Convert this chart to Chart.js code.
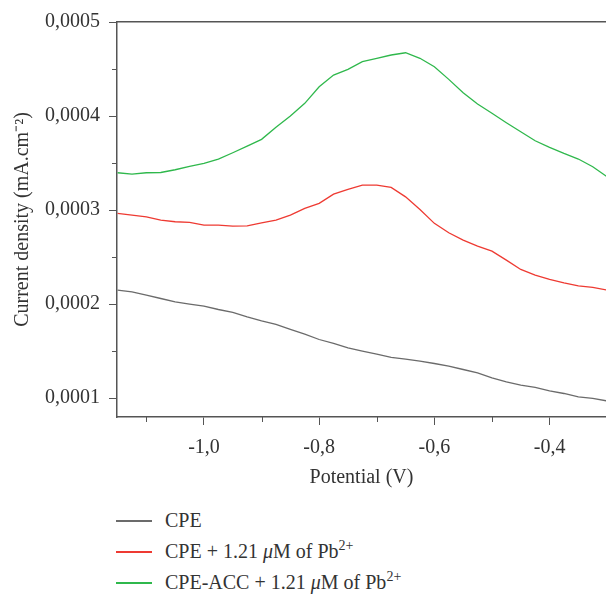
<!DOCTYPE html>
<html>
<head>
<meta charset="utf-8">
<script src="https://cdn.jsdelivr.net/npm/chart.js@4.4.0/dist/chart.umd.min.js"></script>
<style>
  body { margin: 0; background: #fff; }
  #wrap { position: relative; width: 606px; height: 594px; font-family: "Liberation Serif", serif; color: #333; }
  #chart { position: absolute; left: 0; top: 0; }
  .legend { position: absolute; left: 116px; top: 505px; font-size: 20px; }
  .item { position: relative; height: 31px; line-height: 31px; padding-left: 49px; white-space: nowrap; }
  .swatch { position: absolute; left: 0; top: 15px; width: 36px; height: 1.5px; }
  .sup { position: relative; top: -8px; font-size: 14px; }
</style>
</head>
<body>
<div id="wrap">
  <canvas id="chart" width="606" height="490"></canvas>
  <div class="legend">
    <div class="item"><span class="swatch" style="background:#6b6b6b"></span>CPE</div>
    <div class="item"><span class="swatch" style="background:#ee3a32"></span>CPE + 1.21 <i>μ</i>M of Pb<span class="sup">2+</span></div>
    <div class="item"><span class="swatch" style="background:#2fb84c"></span>CPE-ACC + 1.21 <i>μ</i>M of Pb<span class="sup">2+</span></div>
  </div>
</div>
<script>
// données (potentiel en V, densité de courant en mA.cm-2)
const potential = [-1.15, -1.125, -1.1, -1.075, -1.05, -1.025, -1.0, -0.975, -0.95, -0.925,
  -0.9, -0.875, -0.85, -0.825, -0.8, -0.775, -0.75, -0.725, -0.7, -0.675,
  -0.65, -0.625, -0.6, -0.575, -0.55, -0.525, -0.5, -0.475, -0.45, -0.425,
  -0.4, -0.375, -0.35, -0.325, -0.3];

const cpe = [0.0002149, 0.0002131, 0.0002096, 0.000206, 0.0002024, 0.0002, 0.0001979, 0.0001943, 0.0001912, 0.0001865,
  0.0001822, 0.0001784, 0.0001731, 0.0001681, 0.0001624, 0.0001582, 0.0001535, 0.00015, 0.0001468, 0.0001433,
  0.0001415, 0.0001394, 0.0001369, 0.000134, 0.0001305, 0.0001269, 0.0001216, 0.0001173, 0.0001138, 0.0001114,
  0.0001078, 0.000105, 0.0001014, 0.0000997, 0.0000971];

const cpePb = [0.0002965, 0.0002947, 0.0002929, 0.0002894, 0.0002876, 0.0002869, 0.000284, 0.000284, 0.000283, 0.0002833,
  0.0002865, 0.0002894, 0.0002947, 0.0003018, 0.0003071, 0.000317, 0.000322, 0.0003266, 0.0003266, 0.0003241,
  0.0003141, 0.0003007, 0.0002859, 0.0002759, 0.0002681, 0.0002617, 0.0002564, 0.0002468, 0.0002369, 0.0002309,
  0.0002263, 0.0002227, 0.0002195, 0.0002178, 0.0002149];

const cpeAccPb = [0.0003397, 0.0003383, 0.0003397, 0.00034, 0.0003429, 0.0003465, 0.0003497, 0.0003543, 0.000361, 0.0003681,
  0.0003752, 0.000388, 0.0004, 0.0004135, 0.0004312, 0.0004436, 0.0004497, 0.0004578, 0.0004614, 0.0004649,
  0.0004673, 0.0004614, 0.0004525, 0.000439, 0.0004248, 0.0004128, 0.0004029, 0.0003929, 0.0003833, 0.0003737,
  0.0003667, 0.0003603, 0.0003543, 0.0003461, 0.0003354];

// graduations
const xMajor = [-1.0, -0.8, -0.6, -0.4];
const xMinor = [-1.1, -0.9, -0.7, -0.5, -0.3];
const yMajor = [0.0001, 0.0002, 0.0003, 0.0004, 0.0005];
const yMinor = [0.00015, 0.00025, 0.00035, 0.00045];

const axisColor = '#555';
const textColor = '#333';
const font = { family: '"Liberation Serif", serif', size: 20 };

const toPoints = arr => arr.map((v, i) => ({ x: potential[i], y: v }));

// petites graduations intermédiaires (Chart.js n'a pas de minor ticks)
const minorTicks = {
  id: 'minorTicks',
  afterDraw(chart) {
    const ctx = chart.ctx;
    const xs = chart.scales.x, ys = chart.scales.y;
    ctx.save();
    ctx.strokeStyle = axisColor;
    ctx.lineWidth = 1;
    ctx.beginPath();
    xMinor.forEach(v => {
      const px = Math.round(xs.getPixelForValue(v)) + 0.5;
      if (px > xs.right) return;
      ctx.moveTo(px, xs.top);
      ctx.lineTo(px, xs.top + 5);
    });
    yMinor.forEach(v => {
      const py = Math.round(ys.getPixelForValue(v)) + 0.5;
      ctx.moveTo(ys.right - 5, py);
      ctx.lineTo(ys.right, py);
    });
    ctx.stroke();
    ctx.restore();
  }
};

new Chart(document.getElementById('chart').getContext('2d'), {
  type: 'line',
  data: {
    datasets: [
      { label: 'CPE', data: toPoints(cpe), borderColor: '#6b6b6b' },
      { label: 'CPE + 1.21 μM of Pb2+', data: toPoints(cpePb), borderColor: '#ee3a32' },
      { label: 'CPE-ACC + 1.21 μM of Pb2+', data: toPoints(cpeAccPb), borderColor: '#2fb84c' }
    ]
  },
  options: {
    responsive: false,
    animation: false,
    layout: { padding: { top: 22, right: 0, left: 0, bottom: 0 } },
    elements: {
      point: { radius: 0 },
      line: { borderWidth: 1.3, tension: 0 }
    },
    plugins: {
      legend: { display: false },
      tooltip: { enabled: false }
    },
    scales: {
      x: {
        type: 'linear',
        position: 'bottom',
        min: -1.151,
        max: -0.302,
        afterBuildTicks: s => { s.ticks = xMajor.map(v => ({ value: v })); },
        afterFit: s => { s.height = 73; },
        ticks: {
          color: textColor,
          font: font,
          padding: 11,
          maxRotation: 0,
          callback: v => v.toFixed(1).replace('.', ',')
        },
        grid: { drawOnChartArea: false, drawTicks: true, tickLength: 8, tickColor: axisColor, tickWidth: 1 },
        border: { color: axisColor, width: 1.5 },
        title: { display: true, text: 'Potential (V)', color: textColor, font: font, padding: { top: 3, bottom: 0 } }
      },
      x2: {
        type: 'linear',
        position: 'top',
        min: -1.151,
        max: -0.302,
        afterFit: s => { s.height = 0; },
        ticks: { display: false },
        grid: { drawOnChartArea: false, drawTicks: false },
        border: { color: axisColor, width: 1.5 }
      },
      y: {
        type: 'linear',
        position: 'left',
        min: 0.00008,
        max: 0.0005,
        afterBuildTicks: s => { s.ticks = yMajor.map(v => ({ value: v })); },
        afterFit: s => { s.width = 117; },
        ticks: {
          color: textColor,
          font: font,
          padding: 9,
          callback: v => v.toFixed(4).replace('.', ',')
        },
        grid: { drawOnChartArea: false, drawTicks: true, tickLength: 8, tickColor: axisColor, tickWidth: 1 },
        border: { color: axisColor, width: 1.5 },
        title: { display: true, text: 'Current density (mA.cm⁻²)', color: textColor, font: font, padding: { top: 11, bottom: 0 } }
      }
    }
  },
  plugins: [minorTicks]
});
</script>
</body>
</html>
